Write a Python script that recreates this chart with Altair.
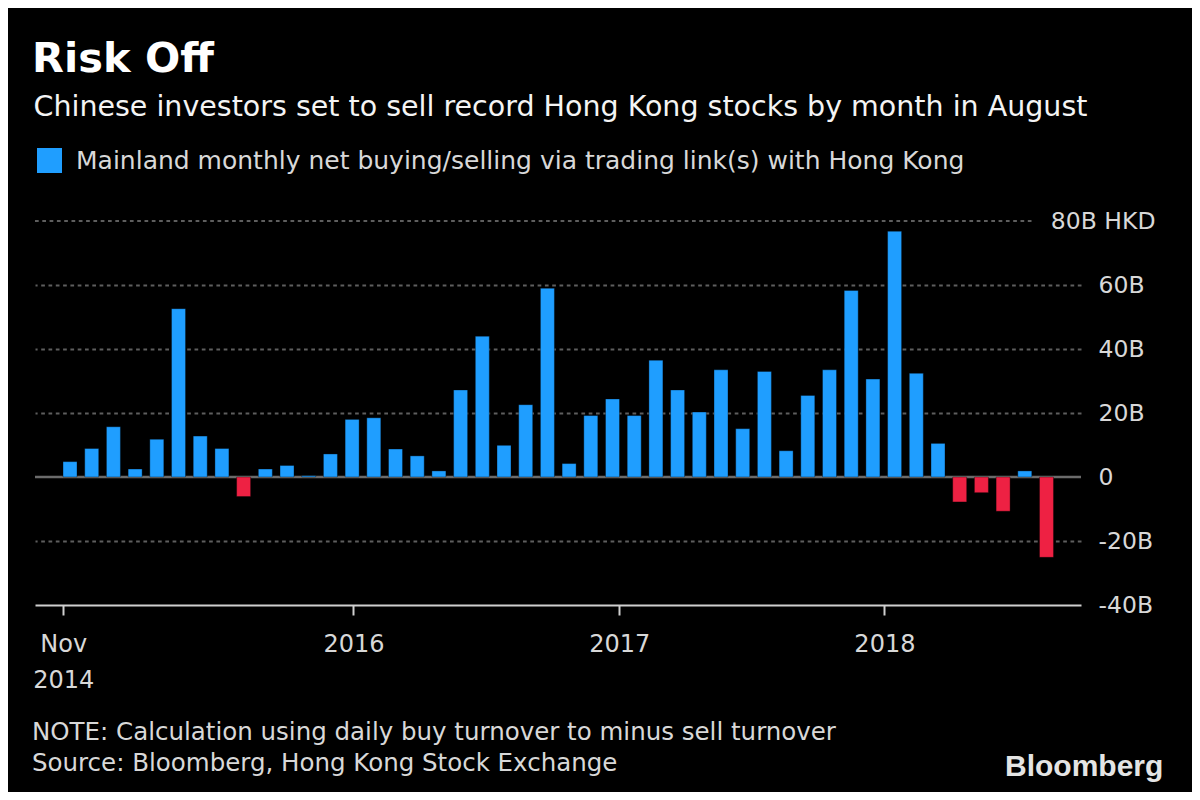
import json
import altair as alt
import pandas as pd

# ---- data -------------------------------------------------------------
months = pd.date_range("2014-11-01", "2018-08-01", freq="MS").strftime("%Y-%m").tolist()
net_flow_bn_hkd = [4.8, 8.9, 15.7, 2.5, 11.8, 52.6, 12.8, 8.9, -6.1, 2.5,
                   3.6, 0.4, 7.2, 18.0, 18.5, 8.75, 6.6, 1.9, 27.2, 44.0,
                   9.9, 22.6, 59.0, 4.2, 19.2, 24.4, 19.2, 36.5, 27.2, 20.3,
                   33.5, 15.1, 33.0, 8.2, 25.5, 33.5, 58.3, 30.6, 76.8, 32.4,
                   10.5, -7.8, -4.9, -10.7, 1.9, -25.1]

x_tick_pos = [-0.31, 13.06, 25.31, 37.53]          # month-index positions of the ticks
x_tick_labels = [["Nov", "2014"], "2016", "2017", "2018"]
y_ticks = [-40, -20, 0, 20, 40, 60, 80]
y_tick_labels = ["-40B", "-20B", "0", "20B", "40B", "60B", "80B HKD"]

TITLE = "Risk Off"
SUBTITLE = "Chinese investors set to sell record Hong Kong stocks by month in August"
LEGEND_LABEL = "Mainland monthly net buying/selling via trading link(s) with Hong Kong"
NOTES = ["NOTE: Calculation using daily buy turnover to minus sell turnover",
         "Source: Bloomberg, Hong Kong Stock Exchange"]
LOGO = "Bloomberg"

BLUE = "#1f9eff"
RED = "#ee2143"
FONT = "DejaVu Sans"
LABEL_GRAY = "#d8d8d8"
GRID_GRAY = "#5e5e5e"

df = pd.DataFrame({
    "month": months,
    "idx": list(range(len(months))),
    "value": net_flow_bn_hkd,
    "sign": ["pos" if v >= 0 else "neg" for v in net_flow_bn_hkd],
})

x_label_expr = f"{json.dumps(x_tick_labels)}[indexof({json.dumps(x_tick_pos)}, datum.value)]"
y_label_expr = f"{json.dumps(y_tick_labels)}[indexof({json.dumps(y_ticks)}, datum.value)]"

W, H = 1046, 384

y_scale = alt.Scale(domain=[-40, 80], nice=False)
y_axis = alt.Axis(
    orient="right", values=y_ticks, labelExpr=y_label_expr, title=None,
    domain=False, ticks=False, grid=True, gridColor=GRID_GRAY,
    gridWidth=2, gridDash=[3.7, 3.6],
    gridOpacity={"condition": {"test": "datum.value == 80 || datum.value == 0 || datum.value == -40", "value": 0}, "value": 1},
    labelAlign={"condition": {"test": "datum.value == 80", "value": "right"}, "value": "left"},
    labelPadding={"condition": {"test": "datum.value == 80", "value": 74}, "value": 17},
    labelBaseline="middle", labelFontSize=23.5, labelColor=LABEL_GRAY,
    labelFont=FONT, labelOverlap=False, labelBound=False)

bars = alt.Chart(df).mark_bar(size=14, stroke="#000000", strokeOpacity=0.35, strokeWidth=1).encode(
    x=alt.X("idx:Q",
            scale=alt.Scale(domain=[-1.614, 46.59], nice=False, zero=False, padding=0),
            axis=alt.Axis(values=x_tick_pos, labelExpr=x_label_expr, title=None, grid=False,
                          domainColor="#cfcfcf", domainWidth=2, tickColor="#cfcfcf", tickWidth=2,
                          tickSize=10, labelPadding=17.5, labelFontSize=24, labelColor=LABEL_GRAY,
                          labelFont=FONT, labelLineHeight=35.6, labelFlush=False,
                          labelOverlap=False, labelBound=False, labelAlign="center",
                          labelBaseline="top")),
    y=alt.Y("value:Q", stack=None, scale=y_scale, axis=y_axis),
    y2=alt.datum(0),
    color=alt.Color("sign:N",
                    scale=alt.Scale(domain=["pos", "neg"], range=[BLUE, RED]),
                    legend=alt.Legend(values=["pos"], orient="none", legendX=2, legendY=-73,
                                      title=None, symbolType="square", symbolSize=625,
                                      symbolStrokeWidth=0, labelFontSize=25, labelFont=FONT,
                                      labelColor=LABEL_GRAY, labelOffset=14, labelLimit=2000,
                                      padding=0,
                                      labelExpr=json.dumps(LEGEND_LABEL))),
)

zero_line = alt.Chart(pd.DataFrame({"value": [0]})).mark_rule(
    color="#6b6b6b", strokeWidth=2.6).encode(y=alt.Y("value:Q", scale=y_scale, axis=y_axis))

top_grid = alt.Chart(pd.DataFrame({"value": [80]})).mark_rule(
    color=GRID_GRAY, strokeWidth=2, strokeDash=[3.7, 3.6]).encode(
    y=alt.Y("value:Q", scale=y_scale, axis=y_axis), x=alt.value(0), x2=alt.value(998))

one = pd.DataFrame({"k": [0]})


def text_layer(text, x, y, size, color, weight="normal", font=FONT, line_height=None):
    kw = dict(align="left", baseline="alphabetic", fontSize=size, fontWeight=weight,
              color=color, font=font)
    if line_height:
        kw["lineHeight"] = line_height
    return alt.Chart(one).mark_text(**kw).encode(
        x=alt.value(x), y=alt.value(y), text=alt.value(text))


title = text_layer(TITLE, -3, -149.3, 41.5, "#ffffff", weight="bold")
subtitle = text_layer(SUBTITLE, -1.5, -105.3, 28.5, "#f4f4f4")
notes = text_layer(NOTES, -3, 519, 24.5, LABEL_GRAY, line_height=31)
logo = text_layer(LOGO, 970, 555, 30, "#e4e4e4", weight="bold", font="Liberation Sans")

chart = alt.layer(zero_line, top_grid, bars, title, subtitle, notes, logo).properties(
    width=W, height=H,
    padding={"left": 27, "top": 213, "right": 111, "bottom": 187},
    autosize=alt.AutoSizeParams(type="none"),
    background="#000000",
).configure(font=FONT).configure_view(stroke=None)

chart.save("out.html", embed_options={"renderer": "svg", "actions": False})
